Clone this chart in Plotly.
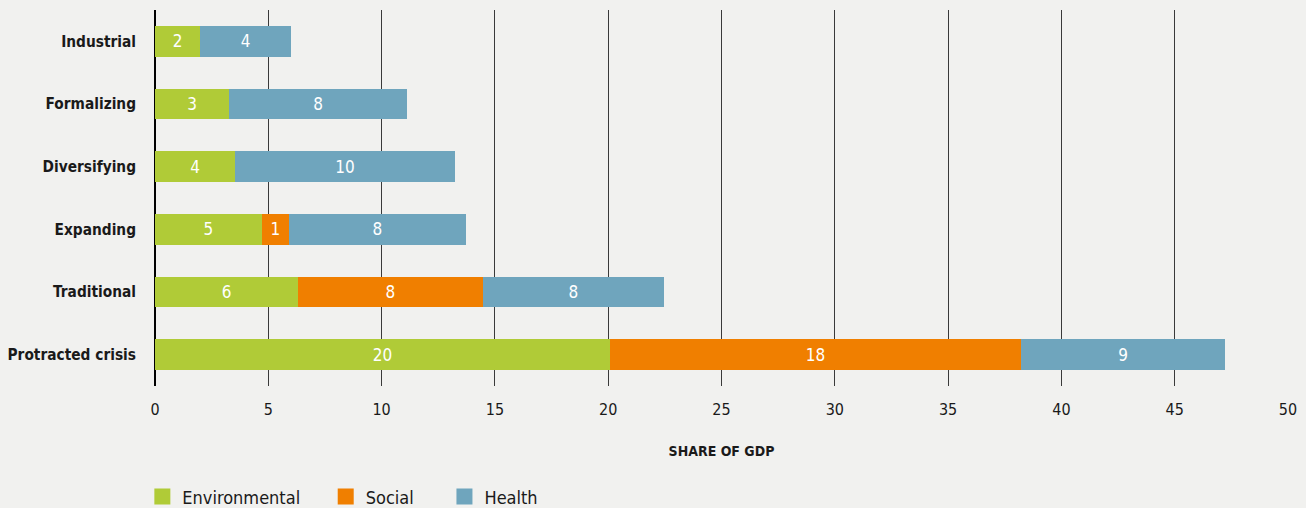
import plotly.graph_objects as go

# categories, bottom to top
categories = ["Protracted crisis", "Traditional", "Expanding", "Diversifying", "Formalizing", "Industrial"]

environmental = [20.08, 6.31, 4.72, 3.53, 3.27, 1.99]
social = [18.14, 8.16, 1.19, 0, 0, 0]
health = [9.00, 7.99, 7.81, 9.71, 7.85, 4.01]

x_ticks = [0, 5, 10, 15, 20, 25, 30, 35, 40, 45, 50]

FONT = "DejaVu Sans Condensed, Liberation Sans Narrow, Roboto, sans-serif"
BG = "#f1f1ef"
INK = "#1a1a1a"

series = [
    ("Environmental", environmental, "#b0cb37", 4),
    ("Social", social, "#f07f00", 5),
    ("Health", health, "#6fa5bd", 0),
]

fig = go.Figure()

for name, vals, color, pad in series:
    text = [f"{v:.0f}" if v > 0 else "" for v in vals]
    fig.add_trace(go.Bar(
        y=categories, x=vals, orientation="h", name=name,
        marker=dict(color=color, line=dict(width=0)),
        text=text, textposition="inside", insidetextanchor="middle",
        textfont=dict(color="white", size=17, family=FONT),
        showlegend=False, hoverinfo="x+name",
    ))
    # legend entry with a square marker (nbsp padding widens the gap to the next item)
    fig.add_trace(go.Scatter(
        x=[None], y=[None], mode="markers", name=name + "\u00a0" * pad,
        marker=dict(symbol="square", size=17, color=color),
    ))

fig.update_layout(
    barmode="stack",
    bargap=0.51,
    width=1306, height=508,
    margin=dict(l=155, r=18, t=10, b=122),
    paper_bgcolor=BG, plot_bgcolor=BG,
    font=dict(family=FONT, color=INK),
    legend=dict(
        orientation="h", traceorder="normal",
        xref="container", yref="container",
        x=0.109, xanchor="left", y=0.022, yanchor="middle",
        font=dict(size=18, family=FONT, color=INK),
        bgcolor="rgba(0,0,0,0)", itemsizing="trace",
    ),
)

fig.update_xaxes(
    range=[0, 50], tickvals=x_ticks,
    showgrid=True, gridcolor="#3a3a3a", gridwidth=1,
    zeroline=True, zerolinecolor="#000000", zerolinewidth=2,
    tickfont=dict(size=16, family=FONT, color=INK),
    ticks="", ticklabelstandoff=12, automargin=False,
    title=dict(text="<b>SHARE OF GDP</b>", font=dict(size=14, family=FONT, color=INK), standoff=28),
    fixedrange=True,
)
fig.update_yaxes(
    categoryorder="array", categoryarray=categories,
    tickfont=dict(size=15.3, family=FONT, color=INK),
    ticklabelstandoff=18, automargin=False,
    showgrid=False, showline=False,
    tickprefix="<b>", ticksuffix="</b>",
)

fig.write_html("out.html", config={"displayModeBar": False},
               post_script="document.body.style.margin='0';")
